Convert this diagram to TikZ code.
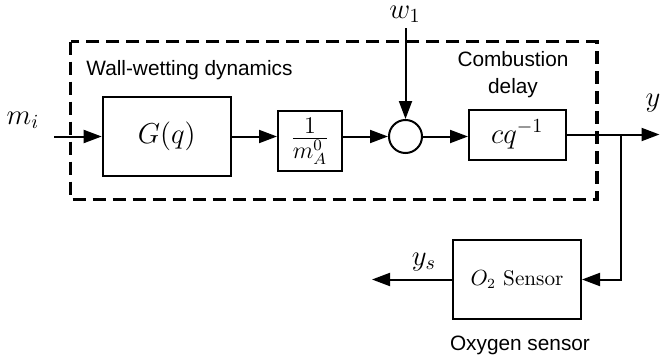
\documentclass[tikz,border=0pt]{standalone}
\usepackage{fontspec}
\newfontfamily\labelfont{Liberation Sans}
\usetikzlibrary{arrows.meta}
\begin{document}
\begin{tikzpicture}[x=0.5pt,y=-0.5pt,
  blockbox/.style={draw,line width=1pt,inner sep=0pt,font=\fontsize{14.3}{17}\selectfont},
  sumnode/.style={draw,circle,line width=1pt,inner sep=0pt,minimum size=16.5pt},
  arr/.style={line width=1pt,-{Triangle[length=9pt,width=6.5pt]}},
  groupbox/.style={line width=1.6pt,dash pattern=on 6.5pt off 3.5pt},
  caption/.style={font=\labelfont\fontsize{10.4}{12.6}\selectfont,inner sep=0pt},
  sig/.style={font=\fontsize{14.3}{17}\selectfont,inner sep=0pt}]
\useasboundingbox (0,0) rectangle (660,364);

% subsystem boundary
\draw[groupbox] (70.7,41.5) rectangle (597,199.5);
\node[caption,anchor=west] (wwlabel) at (86,70) {Wall-wetting dynamics};
\node[caption,align=center] (cdlabel) at (513,74.5) {Combustion\\[1pt]delay};

% blocks
\node[blockbox,minimum width=64pt,minimum height=39.5pt] (G) at (166.7,136.5) {$G(q)$};
\node[blockbox,minimum width=32pt,minimum height=30pt,font=\fontsize{16.5}{19}\selectfont] (gain) at (310,141) {$\frac{1}{m_A^0}$};
\node[sumnode] (sum) at (405.5,136.5) {};
\node[blockbox,minimum width=48.3pt,minimum height=25pt] (delay) at (517.3,134.5) {$cq^{-1}$};
\node[blockbox,minimum width=64pt,minimum height=39.5pt,font=\fontsize{10.6}{12.7}\selectfont] (sensor) at (517,279.5) {$O_2$ Sensor};
\node[caption] (oxlabel) at (520,345) {Oxygen sensor};

% signal labels
\node[sig] (mi) at (23,120) {$m_i$};
\node[sig] (w1) at (405,14) {$w_1$};
\node[sig] (yout) at (653,103) {$y$};
\node[sig] (ys) at (424,262) {$y_s$};

% signal ends
\coordinate (inp) at (54,136.5);
\coordinate (wtop) at (405.5,28);
\coordinate (yend) at (659.5,134.5);
\coordinate (branch) at (621,134.5);
\coordinate (ysend) at (372,279.5);

% connections
\draw[arr] (inp) -- (G.west);
\draw[arr] (G.east) -- (G.east -| gain.west);
\draw[arr] (gain.east |- sum) -- (sum.west);
\draw[arr] (wtop) -- (sum.north);
\draw[arr] (sum.east) -- (sum.east -| delay.west);
\draw[arr] (delay.east) -- (yend);
\draw[arr] (branch) |- (sensor.east);
\draw[arr] (sensor.west) -- (ysend);
\end{tikzpicture}
\end{document}
